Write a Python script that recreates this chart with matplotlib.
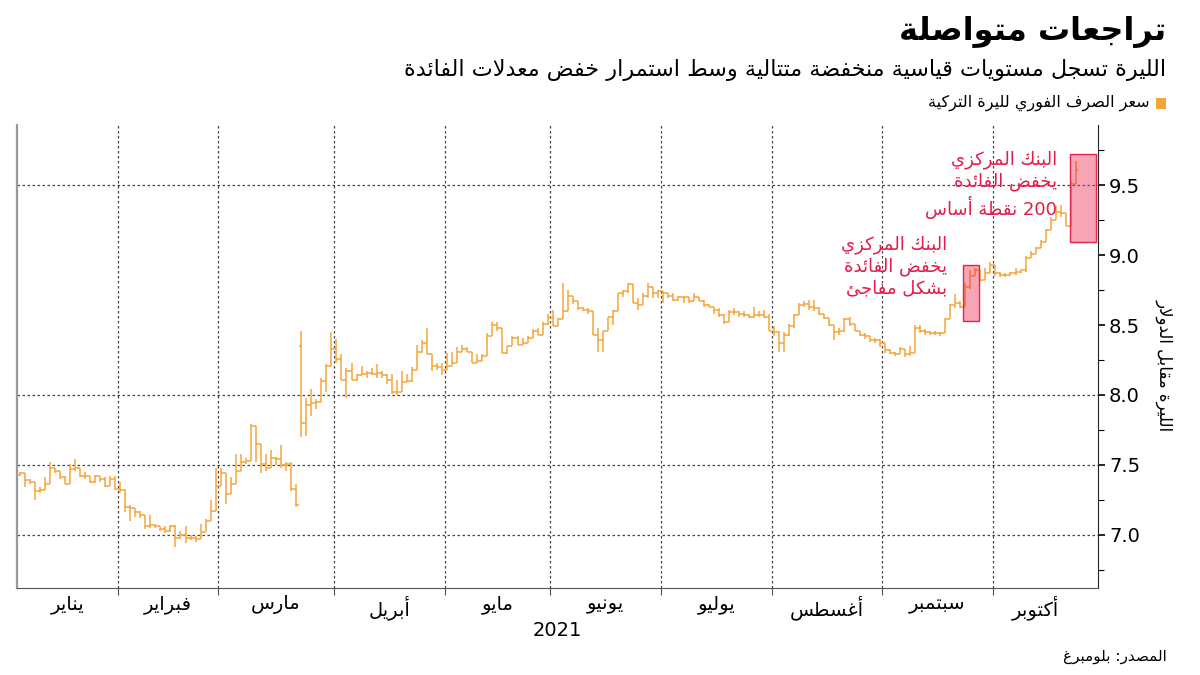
import matplotlib
matplotlib.use("Agg")
import matplotlib.pyplot as plt
from matplotlib.collections import LineCollection
from matplotlib.patches import Rectangle
import numpy as np
import pandas as pd

plt.rcParams["font.family"] = ["DejaVu Sans"]

# ---------------------------------------------------------------------------
# Arabic shaping: matplotlib does no joining / bidi, so map letters to their
# presentation forms and reverse to visual order ourselves.
_ar = {
    'ء': (0xFE80, 1), 'آ': (0xFE81, 2), 'أ': (0xFE83, 2), 'ؤ': (0xFE85, 2),
    'إ': (0xFE87, 2), 'ئ': (0xFE89, 4), 'ا': (0xFE8D, 2), 'ب': (0xFE8F, 4),
    'ة': (0xFE93, 2), 'ت': (0xFE95, 4), 'ث': (0xFE99, 4), 'ج': (0xFE9D, 4),
    'ح': (0xFEA1, 4), 'خ': (0xFEA5, 4), 'د': (0xFEA9, 2), 'ذ': (0xFEAB, 2),
    'ر': (0xFEAD, 2), 'ز': (0xFEAF, 2), 'س': (0xFEB1, 4), 'ش': (0xFEB5, 4),
    'ص': (0xFEB9, 4), 'ض': (0xFEBD, 4), 'ط': (0xFEC1, 4), 'ظ': (0xFEC5, 4),
    'ع': (0xFEC9, 4), 'غ': (0xFECD, 4), 'ف': (0xFED1, 4), 'ق': (0xFED5, 4),
    'ك': (0xFED9, 4), 'ل': (0xFEDD, 4), 'م': (0xFEE1, 4), 'ن': (0xFEE5, 4),
    'ه': (0xFEE9, 4), 'و': (0xFEED, 2), 'ى': (0xFEEF, 2), 'ي': (0xFEF1, 4),
}
_lam_alef = {'آ': 0xFEF5, 'أ': 0xFEF7, 'إ': 0xFEF9, 'ا': 0xFEFB}


def shape_word(word):
    units = []
    i = 0
    while i < len(word):
        ch = word[i]
        if ch == 'ل' and i + 1 < len(word) and word[i + 1] in _lam_alef:
            units.append((_lam_alef[word[i + 1]], 2))
            i += 2
            continue
        units.append(_ar.get(ch, (ord(ch), 0)))
        i += 1
    out = []
    for k, (base, n) in enumerate(units):
        if n == 0:
            out.append(chr(base))
            continue
        prev_joins = k > 0 and units[k - 1][1] == 4
        next_joins = n == 4 and k + 1 < len(units) and units[k + 1][1] >= 2
        if n == 1:
            form = 0
        elif prev_joins and next_joins:
            form = 3
        elif prev_joins:
            form = 1
        elif next_joins:
            form = 2
        else:
            form = 0
        out.append(chr(base + form))
    return ''.join(reversed(out))


def ar(text):
    lines = []
    for line in text.split('\n'):
        toks = [shape_word(t) if any('\u0600' <= c <= '\u06ff' for c in t) else t
                for t in line.split(' ')]
        lines.append(' '.join(reversed(toks)))
    return '\n'.join(lines)


# ---------------------------------------------------------------------------
# data: USD/TRY daily bars, 4 Jan - 25 Oct 2021
closes = [
    7.44, 7.39, 7.38, 7.31, 7.32, 7.36, 7.48, 7.46, 7.41, 7.36,
    7.47, 7.48, 7.42, 7.42, 7.38, 7.42, 7.40, 7.35, 7.40, 7.33,
    7.32, 7.20, 7.19, 7.16, 7.14, 7.06, 7.07, 7.06, 7.04, 7.03,
    7.06, 6.98, 7.00, 6.98, 6.98, 6.97, 7.02, 7.10, 7.17, 7.35,
    7.44, 7.29, 7.36, 7.46, 7.52, 7.53, 7.78, 7.65, 7.51, 7.48,
    7.55, 7.54, 7.50, 7.51, 7.33, 7.21, 7.80, 7.93, 7.94, 7.95,
    8.10, 8.21, 8.33, 8.26, 8.11, 8.17, 8.11, 8.14, 8.15, 8.16,
    8.15, 8.16, 8.14, 8.11, 8.02, 8.02, 8.09, 8.10, 8.18, 8.31,
    8.37, 8.29, 8.21, 8.20, 8.18, 8.21, 8.23, 8.31, 8.33, 8.31,
    8.23, 8.24, 8.28, 8.42, 8.50, 8.48, 8.30, 8.35, 8.41, 8.36,
    8.37, 8.41, 8.46, 8.43, 8.51, 8.55, 8.49, 8.54, 8.60, 8.71,
    8.67, 8.62, 8.61, 8.60, 8.43, 8.39, 8.46, 8.56, 8.60, 8.73,
    8.74, 8.79, 8.66, 8.64, 8.71, 8.77, 8.73, 8.74, 8.73, 8.71,
    8.68, 8.70, 8.70, 8.67, 8.70, 8.67, 8.64, 8.63, 8.61, 8.57,
    8.52, 8.59, 8.59, 8.58, 8.57, 8.56, 8.57, 8.57, 8.56, 8.46,
    8.45, 8.37, 8.43, 8.49, 8.57, 8.64, 8.65, 8.63, 8.62, 8.58,
    8.55, 8.50, 8.45, 8.46, 8.54, 8.51, 8.46, 8.43, 8.42, 8.39,
    8.39, 8.37, 8.32, 8.30, 8.29, 8.33, 8.29, 8.30, 8.48, 8.46,
    8.45, 8.44, 8.44, 8.44, 8.54, 8.64, 8.66, 8.63, 8.77, 8.85,
    8.89, 8.82, 8.87, 8.93, 8.87, 8.86, 8.86, 8.87, 8.88, 8.89,
    8.98, 9.01, 9.05, 9.09, 9.18, 9.25, 9.31, 9.30, 9.21, 9.51,
    9.61,
]
highs = [
    7.45, 7.44, 7.40, 7.38, 7.34, 7.41, 7.52, 7.48, 7.46, 7.42,
    7.51, 7.54, 7.48, 7.45, 7.42, 7.43, 7.42, 7.41, 7.42, 7.42,
    7.38, 7.33, 7.21, 7.18, 7.17, 7.13, 7.14, 7.08, 7.06, 7.06,
    7.07, 7.07, 7.03, 7.06, 7.00, 6.99, 7.08, 7.11, 7.25, 7.48,
    7.48, 7.41, 7.41, 7.58, 7.58, 7.55, 7.79, 7.66, 7.53, 7.58,
    7.61, 7.56, 7.64, 7.52, 7.52, 7.36, 8.46, 7.98, 8.04, 7.97,
    8.12, 8.22, 8.45, 8.40, 8.29, 8.19, 8.23, 8.15, 8.21, 8.17,
    8.19, 8.22, 8.17, 8.15, 8.15, 8.11, 8.17, 8.15, 8.20, 8.36,
    8.39, 8.48, 8.29, 8.23, 8.23, 8.30, 8.31, 8.34, 8.36, 8.34,
    8.30, 8.29, 8.29, 8.44, 8.52, 8.52, 8.48, 8.35, 8.42, 8.42,
    8.41, 8.42, 8.47, 8.48, 8.52, 8.58, 8.61, 8.55, 8.80, 8.75,
    8.71, 8.66, 8.63, 8.62, 8.60, 8.48, 8.46, 8.56, 8.61, 8.73,
    8.75, 8.80, 8.79, 8.69, 8.73, 8.80, 8.77, 8.75, 8.74, 8.73,
    8.73, 8.71, 8.71, 8.70, 8.73, 8.70, 8.68, 8.65, 8.63, 8.62,
    8.58, 8.61, 8.62, 8.60, 8.60, 8.58, 8.63, 8.60, 8.61, 8.58,
    8.49, 8.46, 8.45, 8.51, 8.58, 8.66, 8.67, 8.68, 8.68, 8.63,
    8.58, 8.54, 8.50, 8.48, 8.55, 8.56, 8.51, 8.46, 8.44, 8.42,
    8.41, 8.40, 8.35, 8.33, 8.31, 8.34, 8.33, 8.35, 8.50, 8.50,
    8.47, 8.46, 8.46, 8.45, 8.55, 8.65, 8.72, 8.67, 8.80, 8.89,
    8.91, 8.87, 8.91, 8.95, 8.93, 8.88, 8.87, 8.88, 8.91, 8.90,
    8.99, 9.03, 9.06, 9.11, 9.19, 9.27, 9.35, 9.36, 9.30, 9.53,
    9.67,
]
lows = [
    7.42, 7.34, 7.36, 7.25, 7.30, 7.32, 7.36, 7.44, 7.40, 7.36,
    7.36, 7.46, 7.41, 7.40, 7.37, 7.37, 7.38, 7.34, 7.35, 7.32,
    7.30, 7.16, 7.10, 7.13, 7.12, 7.04, 7.05, 7.05, 7.03, 7.01,
    7.02, 6.91, 6.97, 6.94, 6.96, 6.95, 7.00, 7.02, 7.16, 7.17,
    7.35, 7.22, 7.29, 7.41, 7.50, 7.51, 7.53, 7.52, 7.44, 7.46,
    7.48, 7.50, 7.48, 7.46, 7.31, 7.20, 7.70, 7.71, 7.85, 7.90,
    7.95, 8.02, 8.21, 8.23, 8.11, 7.98, 8.11, 8.10, 8.14, 8.12,
    8.14, 8.12, 8.12, 8.08, 8.01, 8.00, 8.03, 8.09, 8.09, 8.18,
    8.30, 8.29, 8.17, 8.18, 8.14, 8.18, 8.21, 8.23, 8.31, 8.31,
    8.23, 8.23, 8.26, 8.28, 8.42, 8.46, 8.30, 8.29, 8.35, 8.36,
    8.37, 8.37, 8.41, 8.43, 8.50, 8.50, 8.49, 8.49, 8.54, 8.65,
    8.65, 8.61, 8.60, 8.58, 8.43, 8.31, 8.31, 8.46, 8.50, 8.61,
    8.70, 8.73, 8.66, 8.61, 8.67, 8.69, 8.69, 8.69, 8.66, 8.69,
    8.67, 8.67, 8.66, 8.66, 8.68, 8.67, 8.63, 8.63, 8.58, 8.56,
    8.51, 8.54, 8.57, 8.56, 8.56, 8.55, 8.55, 8.56, 8.55, 8.46,
    8.42, 8.31, 8.31, 8.42, 8.48, 8.57, 8.63, 8.61, 8.60, 8.57,
    8.54, 8.49, 8.39, 8.43, 8.45, 8.49, 8.46, 8.42, 8.40, 8.38,
    8.37, 8.34, 8.30, 8.29, 8.28, 8.29, 8.27, 8.28, 8.30, 8.44,
    8.43, 8.43, 8.43, 8.42, 8.44, 8.54, 8.62, 8.62, 8.63, 8.76,
    8.85, 8.81, 8.85, 8.87, 8.85, 8.84, 8.84, 8.85, 8.86, 8.87,
    8.88, 8.98, 9.01, 9.05, 9.09, 9.18, 9.25, 9.27, 9.21, 9.21,
    9.51,
]
opens = [7.43] + closes[:-1]
opens[56] = 8.35  # Monday 22 March gapped higher at the open

months = ["يناير", "فبراير", "مارس", "أبريل", "مايو", "يونيو",
          "يوليو", "أغسطس", "سبتمبر", "أكتوبر"]
dates = pd.bdate_range("2021-01-04", periods=len(closes))

# rate-cut highlight boxes (bar positions, price range)
cut_boxes = [(187.6, 190.8, 8.53, 8.93), (208.9, 214.0, 9.09, 9.72)]
cut_notes = ["البنك المركزي\nيخفض الفائدة\nبشكل مفاجئ",
             "البنك المركزي\nيخفض الفائدة\n200 نقطة أساس"]

BAR = "#f5a53a"
RED = "#e31c4c"
GRID = "#444444"

# ---------------------------------------------------------------------------
fig = plt.figure(figsize=(12, 6.75), dpi=100)
ax = fig.add_axes([17 / 1200, 87 / 675, 1081 / 1200, 463 / 675])

x = np.arange(len(closes))
o, c, h, l = map(np.array, (opens, closes, highs, lows))
hi = np.maximum.reduce([h, o, c])
lo = np.minimum.reduce([l, o, c])
segs = []
for xi, oi, hii, loi, ci in zip(x, o, hi, lo, c):
    segs.append([(xi, loi), (xi, hii)])
    segs.append([(xi - 0.5, oi), (xi, oi)])
    segs.append([(xi, ci), (xi + 0.5, ci)])
ax.add_collection(LineCollection(segs, colors=BAR, linewidths=1.1, zorder=3))

ax.set_xlim(-0.5, 214.4)
ax.set_ylim(6.62, 9.93)

# month boundaries / labels
month_id = dates.month.values
starts = [int(np.argmax(month_id == m)) for m in range(1, 11)]
ends = starts[1:] + [len(closes)]
bounds = [s - 0.5 for s in starts[1:]]
mids = [(s + e - 1) / 2 for s, e in zip(starts, ends)]

for b in bounds:
    ax.axvline(b, color=GRID, lw=0.9, ls=(0, (2, 2)), zorder=1)
for gy in [7.0, 7.5, 8.0, 9.5]:
    ax.axhline(gy, color=GRID, lw=0.9, ls=(0, (2, 2)), zorder=1)

ax.set_xticks(bounds)
ax.set_xticklabels([])
ax.set_xticks(mids, minor=True)
ax.set_xticklabels([ar(m) for m in months], minor=True, fontsize=14)
ax.tick_params(axis="x", which="major", length=5, color="#555555")
ax.tick_params(axis="x", which="minor", length=0, pad=5)
ax.set_xlabel("2021", fontsize=14, labelpad=1)

ax.yaxis.tick_right()
ax.set_yticks([7.0, 7.5, 8.0, 8.5, 9.0, 9.5])
ax.set_yticklabels(["7.0", "7.5", "8.0", "8.5", "9.0", "9.5"], fontsize=14)
ax.set_yticks(np.arange(6.75, 9.9, 0.5), minor=True)
ax.tick_params(axis="y", which="major", length=5, width=1.2, pad=3)
ax.tick_params(axis="y", which="minor", length=4, width=0.8)

ax.spines["top"].set_visible(False)
ax.spines["left"].set_color("#999999")
ax.spines["left"].set_linewidth(1.6)
ax.spines["bottom"].set_color("#555555")
ax.spines["right"].set_color("#222222")

# highlight boxes + notes
for (x0, x1, y0, y1) in cut_boxes:
    ax.add_patch(Rectangle((x0, y0), x1 - x0, y1 - y0,
                           facecolor=(0.93, 0.15, 0.30, 0.42),
                           edgecolor="#e0264e", lw=1.0, zorder=4))
ax.text(184.4, 9.14, ar(cut_notes[0]), color=RED, fontsize=13,
        ha="right", va="top", multialignment="right", linespacing=1.25, zorder=5)
ax.text(206.3, 9.75, ar(cut_notes[1]), color=RED, fontsize=13,
        ha="right", va="top", multialignment="right", linespacing=1.25, zorder=5)

# header / footer
fig.text(0.972, 0.953, ar("تراجعات متواصلة"), fontsize=23, fontweight="bold",
         ha="right", va="center")
fig.text(0.972, 0.896, ar("الليرة تسجل مستويات قياسية منخفضة متتالية وسط استمرار خفض معدلات الفائدة"),
         fontsize=16, ha="right", va="center")
fig.patches.append(Rectangle((1156 / 1200, 1 - 109 / 675), 10 / 1200, 11 / 675,
                             transform=fig.transFigure, facecolor=BAR,
                             edgecolor="none"))
fig.text(1150 / 1200, 1 - 103 / 675, ar("سعر الصرف الفوري لليرة التركية"),
         fontsize=11.5, ha="right", va="center")
fig.text(1165 / 1200, 1 - 365 / 675, ar("الليرة مقابل الدولار"), fontsize=12,
         rotation=-90, ha="center", va="center")
fig.text(0.972, 1 - 657 / 675, ar("المصدر: بلومبرغ"), fontsize=11,
         ha="right", va="center")

fig.savefig("out.png", dpi=100)
